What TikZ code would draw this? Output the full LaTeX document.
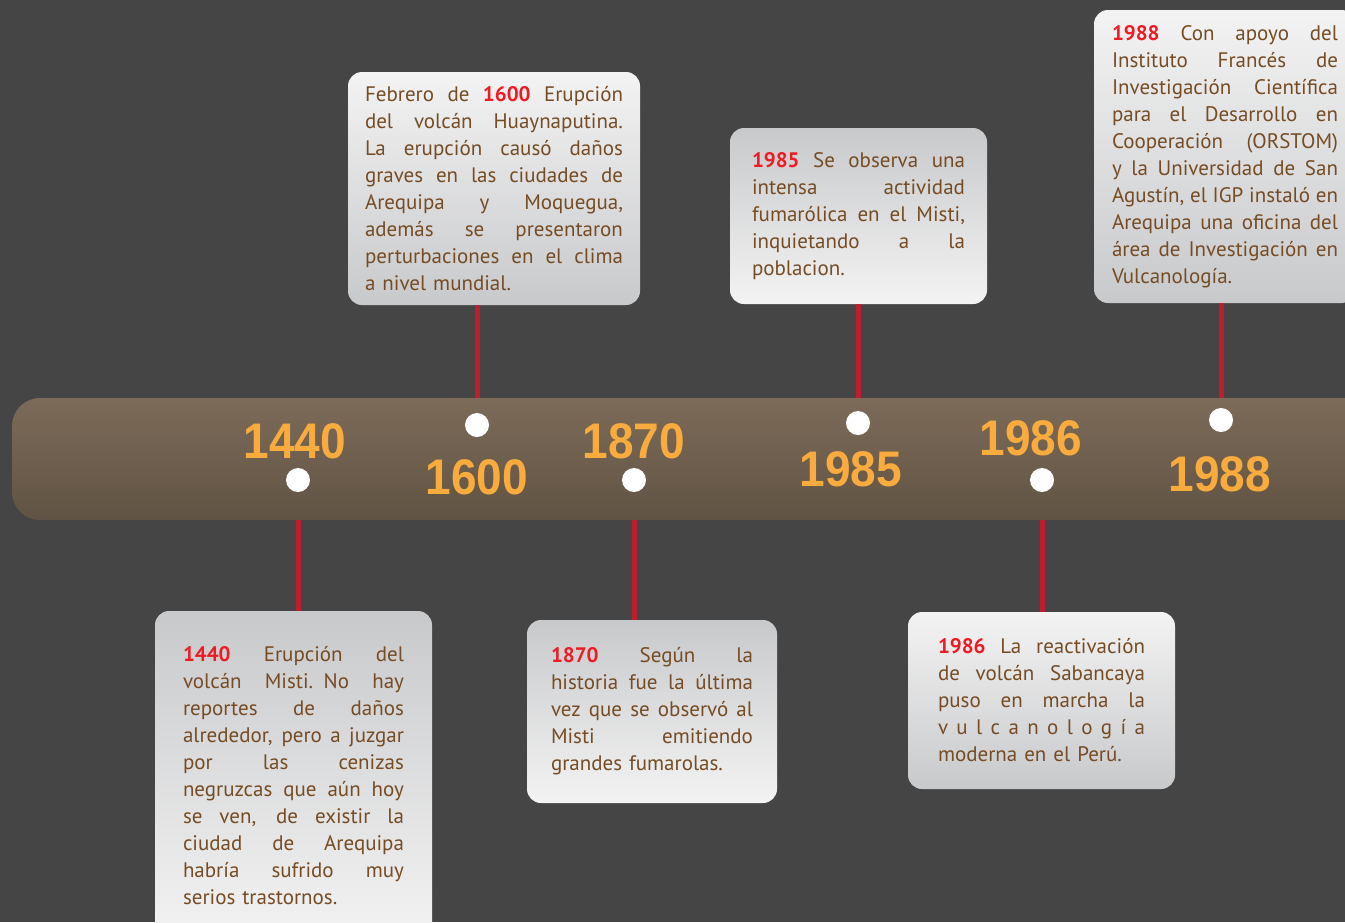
\documentclass[tikz,border=0pt]{standalone}
\usepackage{fontspec}
\setmainfont{PT Sans}
\newfontfamily\yearfont{Liberation Sans}
\definecolor{board}{HTML}{454545}
\definecolor{bandtop}{HTML}{7D6B59}
\definecolor{bandbot}{HTML}{605343}
\definecolor{stemred}{HTML}{BE1E2D}
\definecolor{yearred}{HTML}{ED1C24}
\definecolor{yearorange}{HTML}{F9AC3D}
\definecolor{cardtext}{HTML}{754C24}
\definecolor{cardlight}{HTML}{F3F3F3}
\definecolor{carddark}{HTML}{C8C9CB}
\newcommand\fullline[1]{\leavevmode\hbox to\hsize{\spaceskip=\fontdimen2\font plus 1fil minus .1em\relax#1}}
\newcommand\redyear[1]{\textcolor{yearred}{\textbf{#1}}}
\newcommand\narrowyear[1]{\scalebox{0.92}[1]{#1}}
\begin{document}
\begin{tikzpicture}[x=1pt,y=-1pt,
		card/.style={rounded corners=14pt,align=left,text=cardtext,inner sep=0pt,
			font=\fontsize{21}{27}\selectfont},
		lightup/.style={top color=cardlight,bottom color=carddark},
		lightdown/.style={top color=carddark,bottom color=cardlight},
		stem/.style={stemred,line width=5pt},
		dot/.style={circle,fill=white,minimum size=24pt,inner sep=0pt},
		year/.style={text=yearorange,inner sep=0pt,font=\yearfont\bfseries\fontsize{50}{50}\selectfont}]
	\useasboundingbox (0,0) rectangle (1345,922);
	\fill[board] (0,0) rectangle (1345,922);
	\shade[top color=bandtop,bottom color=bandbot,rounded corners=28pt] (1400,398) -- (12,398) -- (12,520) -- (1400,520) -- cycle;
	\node[card,lightup,minimum width=292pt,minimum height=233pt,text width=258pt] (b1600) at (494,188.5) {
		\fullline{Febrero de \redyear{1600} Erupción}\\
		\fullline{del volcán Huaynaputina.}\\
		\fullline{La erupción causó daños}\\
		\fullline{graves en las ciudades de}\\
		\fullline{Arequipa y Moquegua,}\\
		\fullline{además se presentaron}\\
		\fullline{perturbaciones en el clima}\\
		a nivel mundial.};
	\node[card,lightdown,minimum width=257pt,minimum height=176pt,text width=213pt] (b1985) at (858.5,216) {
		\fullline{\redyear{1985} Se observa una}\\
		\fullline{intensa actividad}\\
		\fullline{fumarólica en el Misti,}\\
		\fullline{inquietando a la}\\
		poblacion.};
	\node[card,lightup,minimum width=262pt,minimum height=293pt,text width=226pt] (b1988) at (1225,156.5) {
		\fullline{\redyear{1988} Con apoyo del}\\
		\fullline{Instituto Francés de}\\
		\fullline{Investigación Científica}\\
		\fullline{para el Desarrollo en}\\
		\fullline{Cooperación (ORSTOM)}\\
		\fullline{y la Universidad de San}\\
		\fullline{Agustín, el IGP instaló en}\\
		\fullline{Arequipa una oficina del}\\
		\fullline{área de Investigación en}\\
		Vulcanología.};
	\node[card,lightdown,minimum width=277pt,minimum height=329pt,text width=221pt] (b1440) at (293.5,775.5) {
		\fullline{\redyear{1440} Erupción del}\\
		\fullline{volcán Misti. No hay}\\
		\fullline{reportes de daños}\\
		\fullline{alrededor, pero a juzgar}\\
		\fullline{por las cenizas}\\
		\fullline{negruzcas que aún hoy}\\
		\fullline{se ven, de existir la}\\
		\fullline{ciudad de Arequipa}\\
		\fullline{habría sufrido muy}\\
		serios trastornos.};
	\node[card,lightdown,minimum width=250pt,minimum height=183pt,text width=202pt] (b1870) at (652,711.5) {
		\fullline{\redyear{1870} Según la}\\
		\fullline{historia fue la última}\\
		\fullline{vez que se observó al}\\
		\fullline{Misti emitiendo}\\
		grandes fumarolas.};
	\node[card,lightup,minimum width=267pt,minimum height=177pt,text width=207pt] (b1986) at (1041.5,700.5) {
		\fullline{\redyear{1986} La reactivación}\\
		\fullline{de volcán Sabancaya}\\
		\fullline{puso en marcha la}\\
		\fullline{v u l c a n o l o g í a}\\
		moderna en el Perú.};
	\coordinate (s1600) at (477,398);
	\coordinate (s1985) at (858,398);
	\coordinate (s1988) at (1221,398);
	\coordinate (s1440) at (298,520);
	\coordinate (s1870) at (634,520);
	\coordinate (s1986) at (1042,520);
	\draw[stem] (s1600 |- b1600.south) -- (s1600);
	\draw[stem] (s1985 |- b1985.south) -- (s1985);
	\draw[stem] (s1988 |- b1988.south) -- (s1988);
	\draw[stem] (s1440) -- (s1440 |- b1440.north);
	\draw[stem] (s1870) -- (s1870 |- b1870.north);
	\draw[stem] (s1986) -- (s1986 |- b1986.north);
	\node[dot] (d1440) at (298,480) {};
	\node[dot] (d1600) at (477,425) {};
	\node[dot] (d1870) at (634,480) {};
	\node[dot] (d1985) at (858,423) {};
	\node[dot] (d1986) at (1042,480) {};
	\node[dot] (d1988) at (1221,420) {};
	\node[year] (y1440) at (295,441) {\narrowyear{1440}};
	\node[year] (y1600) at (477,477) {\narrowyear{1600}};
	\node[year] (y1870) at (634,441) {\narrowyear{1870}};
	\node[year] (y1985) at (851,469) {\narrowyear{1985}};
	\node[year] (y1986) at (1031,438) {\narrowyear{1986}};
	\node[year] (y1988) at (1220,474) {\narrowyear{1988}};
\end{tikzpicture}
\end{document}
